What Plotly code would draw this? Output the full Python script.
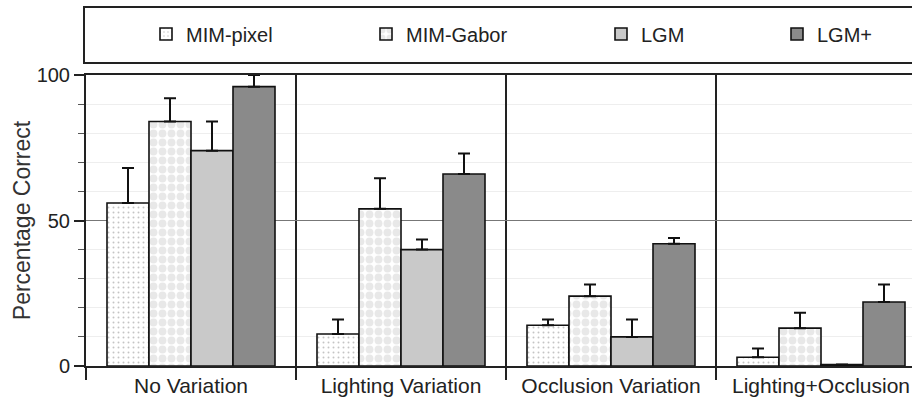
import plotly.graph_objects as go

categories = ["No Variation", "Lighting Variation", "Occlusion Variation", "Lighting+Occlusion"]
series_names = ["MIM-pixel", "MIM-Gabor", "LGM", "LGM+"]
mim_pixel = [56, 11, 14, 3]
mim_pixel_err = [12, 5, 2, 3]
mim_gabor = [84, 54, 24, 13]
mim_gabor_err = [8, 10.5, 4, 5.3]
lgm = [74, 40, 10, 0.5]
lgm_err = [10, 3.5, 6, 0]
lgm_plus = [96, 66, 42, 22]
lgm_plus_err = [4, 7, 2, 6]
y_ticks = [0, 50, 100]

FONT = "Liberation Sans, Arial, sans-serif"
INK = "#222222"

values = [mim_pixel, mim_gabor, lgm, lgm_plus]
errors = [mim_pixel_err, mim_gabor_err, lgm_err, lgm_plus_err]
styles = [
    dict(color="white", pattern=dict(shape=".", fgcolor="#8a8a8a", bgcolor="white", size=5, solidity=0.12)),
    dict(color="white", pattern=dict(shape=".", fgcolor="#d2d2d2", bgcolor="white", size=9, solidity=0.6)),
    dict(color="#c9c9c9"),
    dict(color="#8a8a8a"),
]
legend_widths = [175, 190, 131, 62]

fig = go.Figure()
for name, vals, errs, st, lw in zip(series_names, values, errors, styles, legend_widths):
    fig.add_trace(go.Bar(
        name=name, x=categories, y=vals,
        marker=dict(line=dict(color="#111111", width=1.6), **st),
        error_y=dict(type="data", array=errs, arrayminus=[0] * len(errs), symmetric=False,
                     color="#111111", thickness=2, width=6),
        legendwidth=lw,
    ))

W, H = 912, 401
ml, mt, mb, mr = 86, 75, 35, 0
pw = W - ml - mr
ph = H - mt - mb
group_px = 210

def px_x(px):
    return (px - ml) / pw

def px_y(py):
    return (H - mb - py) / ph

fig.update_layout(
    width=W, height=H,
    margin=dict(l=ml, r=mr, t=mt, b=mb, pad=0),
    paper_bgcolor="white", plot_bgcolor="white",
    font=dict(family=FONT, size=20, color=INK),
    barmode="group", bargap=0.2, bargroupgap=0,
    showlegend=True,
    legend=dict(orientation="h", x=px_x(146), xanchor="left", y=px_y(34), yanchor="middle",
                bgcolor="rgba(0,0,0,0)", borderwidth=0, font=dict(size=20, color=INK),
                traceorder="normal"),
    xaxis=dict(
        type="category",
        range=[-0.5, -0.5 + pw / group_px],
        showline=True, linecolor=INK, linewidth=2, mirror=True,
        tickson="boundaries", ticks="outside", ticklen=12, tickwidth=1.5, tickcolor=INK,
        showgrid=True, gridcolor=INK, gridwidth=1.5,
        tickfont=dict(size=21, color=INK),
        fixedrange=True,
    ),
    yaxis=dict(
        range=[0, 100], tickvals=y_ticks,
        showline=True, linecolor=INK, linewidth=2,
        ticks="outside", ticklen=10, tickwidth=1.5, tickcolor=INK,
        showgrid=True, gridcolor="#777777", gridwidth=1,
        zeroline=False,
        minor=dict(dtick=10, ticks="outside", ticklen=6, tickwidth=1, tickcolor="#555555",
                   showgrid=True, gridcolor="#eeeeee", gridwidth=1),
        tickfont=dict(size=20, color=INK),
        title=dict(text="Percentage Correct", font=dict(size=23, color="#333333"), standoff=0),
        fixedrange=True,
    ),
    shapes=[dict(type="rect", xref="paper", yref="paper",
                 x0=px_x(84), x1=px_x(918), y0=px_y(63), y1=px_y(7),
                 line=dict(color=INK, width=2), fillcolor="rgba(0,0,0,0)", layer="above")],
)

fig.write_html("out.html")
